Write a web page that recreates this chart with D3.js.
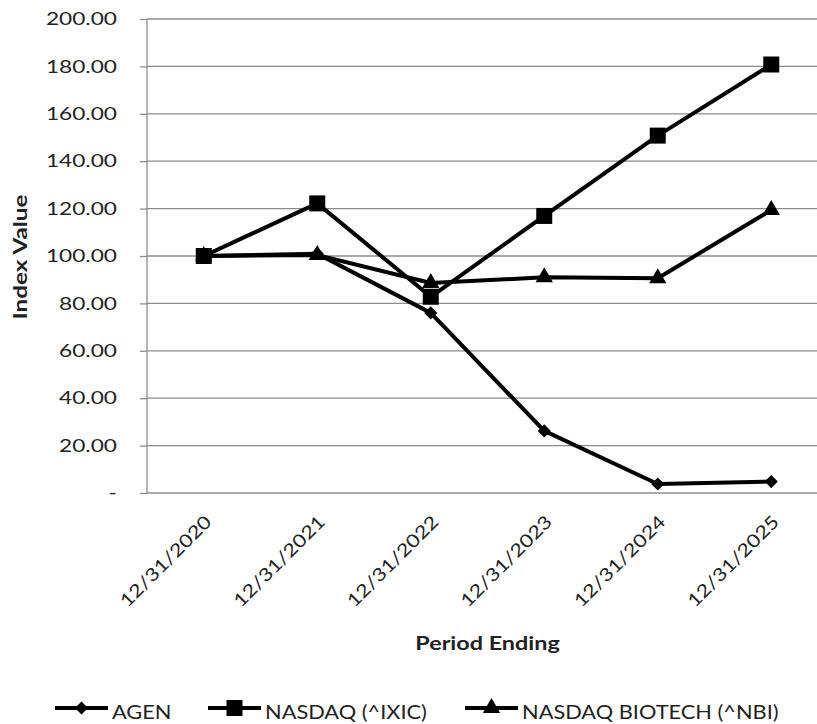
<!DOCTYPE html>
<html><head><meta charset="utf-8">
<script src="https://cdn.jsdelivr.net/npm/d3@7"></script>
<style>
body{margin:0;background:#fff}
text{font-family:Lato,"Open Sans",sans-serif;fill:#222}
</style>
</head><body><svg id="c" width="817" height="724"></svg>
<script>
const categories = ["12/31/2020","12/31/2021","12/31/2022","12/31/2023","12/31/2024","12/31/2025"];
const agen   = [100, 101, 76, 26.2, 3.8, 4.8];
const nasdaq = [100, 122.2, 82.8, 116.9, 150.8, 180.8];
const nbi    = [100, 100.4, 88.6, 91.0, 90.6, 119.4];
const yTicks = [0,20,40,60,80,100,120,140,160,180,200];
const seriesNames = ["AGEN","NASDAQ (^IXIC)","NASDAQ BIOTECH (^NBI)"];
const markerTypes = ["diamond","square","triangle"];

const svg = d3.select("#c");
const L = 147, R = 828, T = 19, B = 493;
const x = d3.scalePoint().domain(categories).range([L, R]).padding(0.5);
const y = d3.scaleLinear().domain([0,200]).range([B, T]);
const GRID = "#8c8c8c";

// gridlines
svg.append("g").selectAll("line").data(yTicks.filter(d=>d>0)).join("line")
  .attr("x1", L).attr("x2", R).attr("y1", d=>y(d)).attr("y2", d=>y(d))
  .attr("stroke", GRID).attr("stroke-width", 1.3);

// y axis
const yAxis = d3.axisLeft(y).tickValues(yTicks).tickSize(7).tickPadding(30)
  .tickFormat(d => d === 0 ? "-" : d3.format(".2f")(d));
const gy = svg.append("g").attr("transform", `translate(${L},0)`).call(yAxis);
gy.select(".domain").attr("stroke", GRID).attr("stroke-width", 1.3).attr("d", `M0,${T}V${B}`);
gy.selectAll(".tick line").attr("stroke", GRID).attr("stroke-width", 1.3);
gy.selectAll(".tick text").attr("font-size", 18).attr("fill", "#222").attr("font-family", "Lato")
  .attr("x", 0).attr("transform", "translate(-30,0) scale(1.26,1)");

// x axis baseline
svg.append("line").attr("x1", L).attr("x2", R).attr("y1", B).attr("y2", B)
  .attr("stroke", GRID).attr("stroke-width", 1.3);

// x labels
svg.append("g").selectAll("text").data(categories).join("text")
  .attr("transform", d => `translate(${x(d)+9},${B+30}) rotate(-45) scale(1.21,1)`)
  .attr("text-anchor", "end").attr("font-size", 18).text(d => d);

// axis titles
svg.append("text").attr("transform", "translate(27,257) rotate(-90) scale(1.35,1)")
  .attr("text-anchor", "middle").attr("font-size", 18).attr("font-weight", "bold").text("Index Value");
svg.append("text").attr("transform", `translate(${(L+R)/2},650) scale(1.3,1)`)
  .attr("text-anchor", "middle").attr("font-size", 18).attr("font-weight", "bold").text("Period Ending");

const symbols = {
  diamond: d3.symbol().type(d3.symbolDiamond2).size(110),
  square: d3.symbol().type(d3.symbolSquare).size(256),
  triangle: d3.symbol().type(d3.symbolTriangle).size(130)
};

const data = [agen, nasdaq, nbi];
const line = d3.line().x((d,i)=>x(categories[i])).y(d=>y(d));
data.forEach((vals, si) => {
  svg.append("path").datum(vals).attr("d", line)
    .attr("fill", "none").attr("stroke", "#000").attr("stroke-width", 4).attr("stroke-linejoin", "round");
});
data.forEach((vals, si) => {
  svg.append("g").selectAll("path").data(vals).join("path")
    .attr("transform", (d,i) => `translate(${x(categories[i])},${y(d)})`)
    .attr("d", symbols[markerTypes[si]]()).attr("fill", "#000");
});

// legend
const legX = [55, 208, 465];
const legLine = 708;
seriesNames.forEach((name, i) => {
  const g = svg.append("g").attr("transform", `translate(${legX[i]},${legLine})`);
  g.append("line").attr("x1", 0).attr("x2", 53).attr("y1", 0).attr("y2", 0)
    .attr("stroke", "#000").attr("stroke-width", 4);
  g.append("path").attr("transform", "translate(26.5,0)").attr("d", symbols[markerTypes[i]]()).attr("fill", "#000");
  g.append("text").attr("transform", "translate(57,11) scale(1.09,1)").attr("font-size", 20).text(name);
});
</script></body></html>
